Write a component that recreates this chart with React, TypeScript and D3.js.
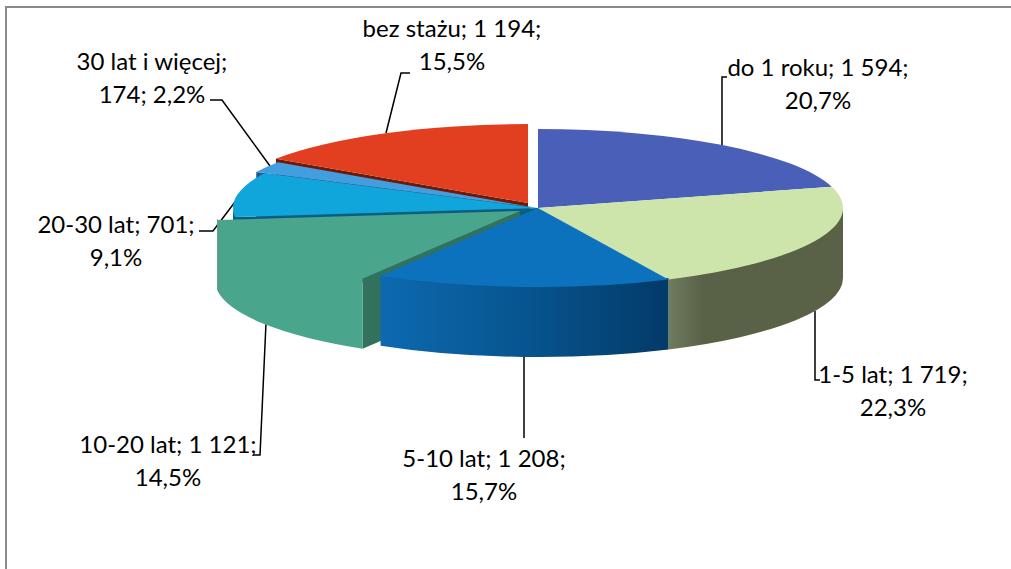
import React from 'react';
import * as d3 from 'd3';

const W = 1011;
const H = 569;

// data
const categories = ['do 1 roku', '1-5 lat', '5-10 lat', '10-20 lat', '20-30 lat', '30 lat i więcej', 'bez stażu'];
const values = [1594, 1719, 1208, 1121, 701, 174, 1194];
const explode = [0, 0, 0, 0.07, 0, 0.03, 0.07];
const topColors = ['#4a5fb8', '#cde5ab', '#0d72bd', '#4aa58d', '#10a5db', '#439ee0', '#e13f1f'];
const cutColors = ['#2c3a70', '#596147', '#064474', '#32715c', '#0a5f80', '#235a85', '#6d1a0b'];
const wallStops = [
  ['#2c3a70', '#2c3a70'],
  ['#6f7c5e', '#596147', '#596147'],
  ['#0d69b0', '#07558f', '#033a68'],
  ['#4f9f88', '#4aa58d', '#4aa58d'],
  ['#0a5f80', '#0a5f80'],
  ['#235a85', '#235a85'],
  ['#6d1a0b', '#6d1a0b'],
];
// back to front
const paintOrder = [6, 0, 5, 4, 1, 3, 2];

// label lines, leader lines: page layout, not data
const labelLines = [
  ['do 1 roku; 1 594;', '20,7%'],
  ['1-5 lat; 1 719;', '22,3%'],
  ['5-10 lat; 1 208;', '15,7%'],
  ['10-20 lat; 1 121;', '14,5%'],
  ['20-30 lat; 701;', '9,1%'],
  ['30 lat i więcej;', '174; 2,2%'],
  ['bez stażu; 1 194;', '15,5%'],
];
const labelPos: [number, number][] = [
  [818, 76], [893, 383], [484, 467], [168, 453], [116, 233], [152, 70], [452, 37],
];
const leaders: [number, number][][] = [
  [[722, 146], [722, 77], [727, 77]],
  [[815, 311], [815, 380], [820, 380]],
  [[524, 357], [524, 438]],
  [[266, 323], [260, 455], [253, 455]],
  [[241, 194], [213, 231], [199, 231]],
  [[270, 166], [222, 100], [210, 100]],
  [[386, 133], [401, 73], [410, 73]],
];

const cx = 538;
const cy = 208;
const rx = 305;
const ry = 79;
const depth = 70;
// wall runs a little under the top face so no seam shows between them
const overlap = 1.5;

const px = (a: number, ox: number) => cx + ox + rx * Math.sin(a);
const py = (a: number, oy: number) => cy + oy - ry * Math.cos(a);

export default function App() {
  const arcs = d3.pie<number>().sort(null)(values);
  const topArc = d3.arc<d3.PieArcDatum<number>>().innerRadius(0).outerRadius(rx);
  const line = d3.line();

  const slices = arcs.map((d, i) => {
    const mid = (d.startAngle + d.endAngle) / 2;
    const ox = explode[i] * rx * Math.sin(mid);
    const oy = -explode[i] * ry * Math.cos(mid);

    // front facing part of the rim
    const a0 = Math.max(d.startAngle, Math.PI / 2);
    const a1 = Math.min(d.endAngle, (3 * Math.PI) / 2);
    const wall = a1 > a0
      ? `M${px(a0, ox)},${py(a0, oy) - overlap}` +
        `A${rx},${ry} 0 0 1 ${px(a1, ox)},${py(a1, oy) - overlap}` +
        `L${px(a1, ox)},${py(a1, oy) + depth}` +
        `A${rx},${ry} 0 0 0 ${px(a0, ox)},${py(a0, oy) + depth}Z`
      : null;

    // cut face at the start of the slice, seen on the left half only
    const cut = d.startAngle > Math.PI
      ? line([
          [cx + ox, cy + oy],
          [px(d.startAngle, ox), py(d.startAngle, oy)],
          [px(d.startAngle, ox), py(d.startAngle, oy) + depth],
          [cx + ox, cy + oy + depth],
        ]) + 'Z'
      : null;

    return { i, ox, oy, wall, cut, d, a0, a1 };
  });

  const stopOffset = (i: number, k: number) => {
    if (i === 1) return [0, 0.2, 1][k];
    if (i === 3) return [0, 0.06, 1][k];
    return k / (wallStops[i].length - 1);
  };

  return (
    <svg width={W} height={H} style={{ position: 'absolute', left: 0, top: 0, background: '#fff' }}>
      <defs>
        {slices.map(s => s.wall && (
          <linearGradient
            key={s.i}
            id={`wall${s.i}`}
            gradientUnits="userSpaceOnUse"
            x1={Math.min(px(s.a0, s.ox), px(s.a1, s.ox))}
            x2={Math.max(px(s.a0, s.ox), px(s.a1, s.ox))}
            y1={0}
            y2={0}
          >
            {wallStops[s.i].map((c, k) => (
              <stop key={k} offset={stopOffset(s.i, k)} stopColor={c} />
            ))}
          </linearGradient>
        ))}
      </defs>

      <path d="M6,569V7H1011" fill="none" stroke="#8a8a8a" strokeWidth={2} />

      {leaders.map((pts, i) => (
        <path key={i} d={line(pts) ?? ''} fill="none" stroke="#000" strokeWidth={1.5} />
      ))}

      {paintOrder.map(i => {
        const s = slices[i];
        return (
          <g key={i}>
            {s.cut && <path d={s.cut} fill={cutColors[i]} />}
            {s.wall && <path d={s.wall} fill={`url(#wall${i})`} />}
            <path
              d={topArc(s.d) ?? ''}
              fill={topColors[i]}
              transform={`translate(${cx + s.ox},${cy + s.oy}) scale(1,${ry / rx})`}
            />
          </g>
        );
      })}

      {labelLines.map((lines, i) => (
        <text
          key={categories[i]}
          x={labelPos[i][0]}
          y={labelPos[i][1]}
          textAnchor="middle"
          fontFamily="Lato, 'Open Sans', sans-serif"
          fontSize={24}
          fill="#000"
        >
          {lines.map((t, k) => (
            <tspan key={k} x={labelPos[i][0]} dy={k === 0 ? 0 : 33}>{t}</tspan>
          ))}
        </text>
      ))}
    </svg>
  );
}
